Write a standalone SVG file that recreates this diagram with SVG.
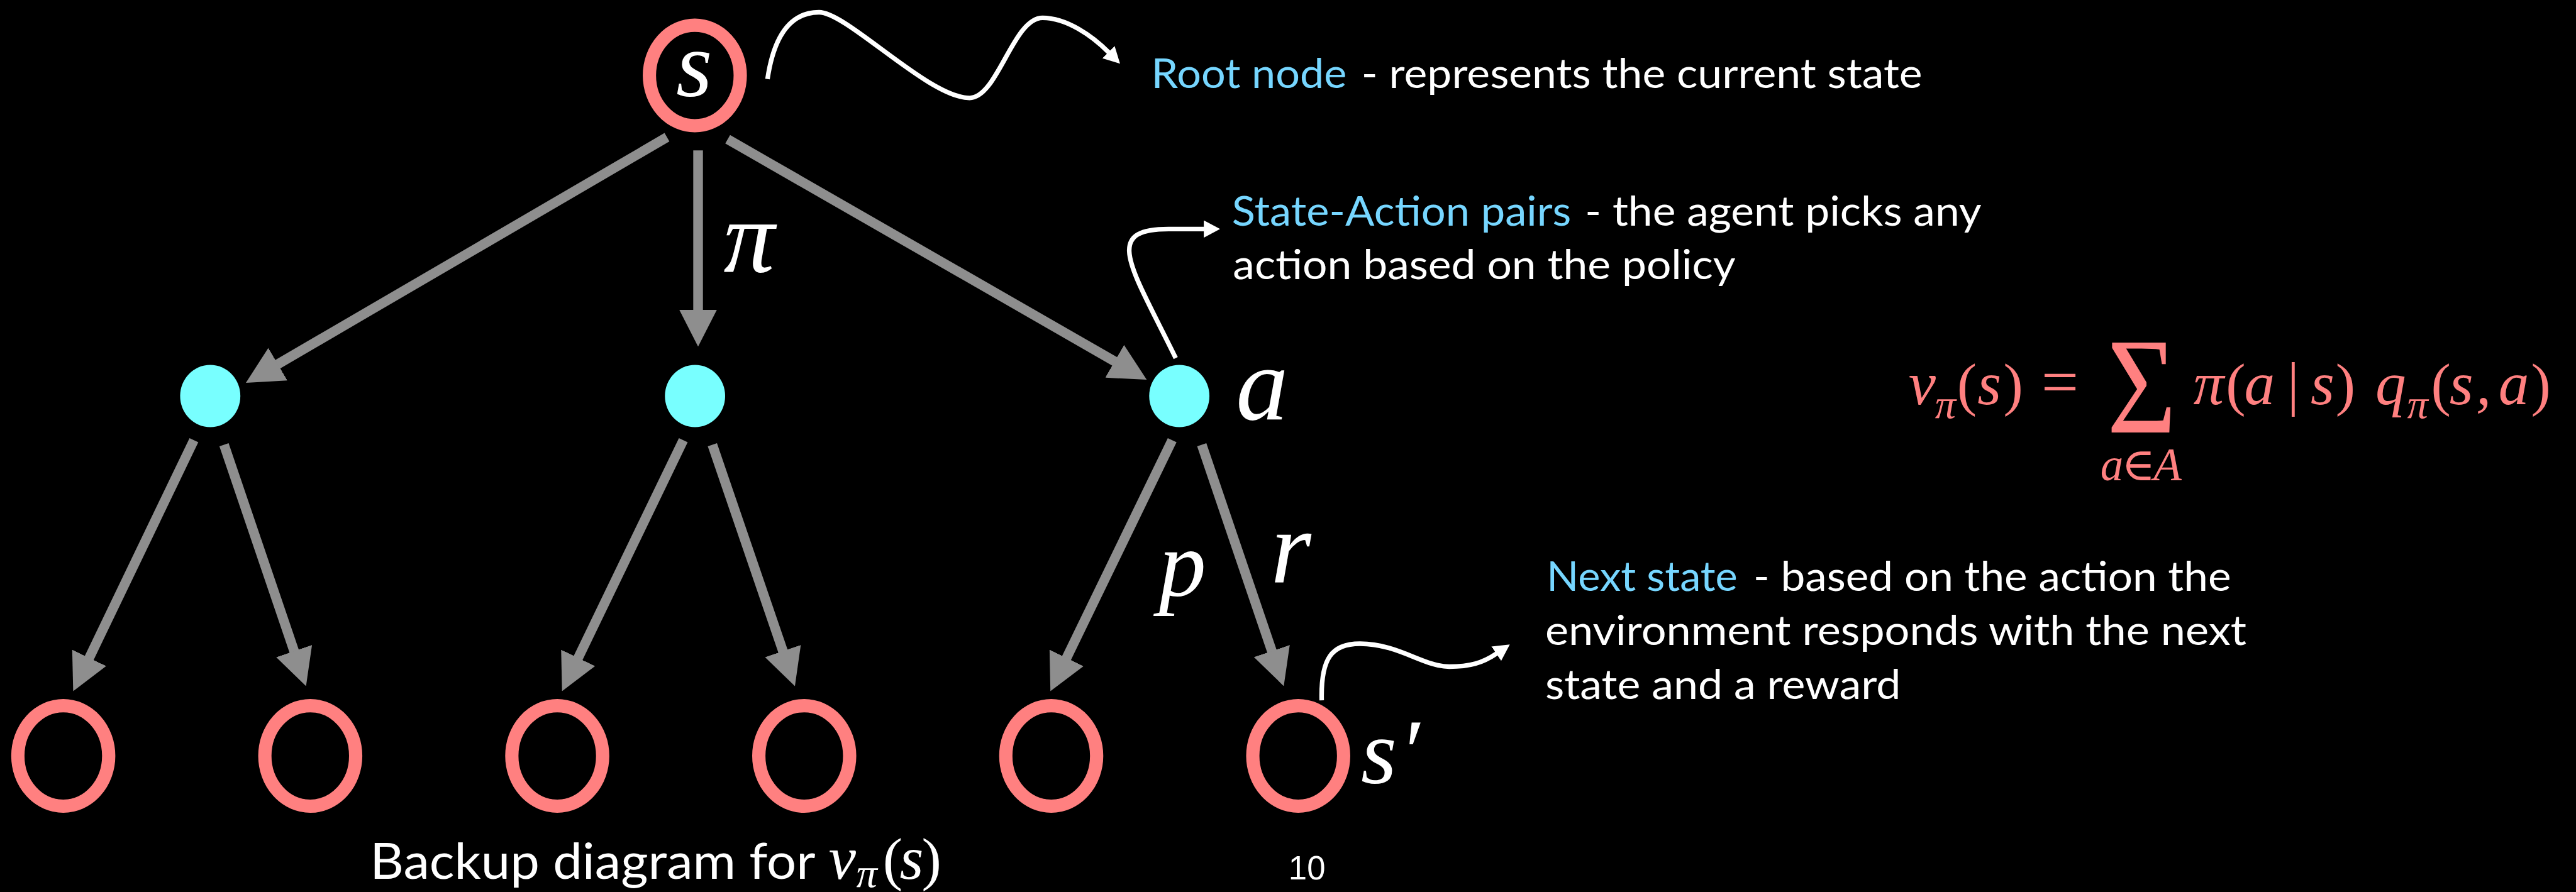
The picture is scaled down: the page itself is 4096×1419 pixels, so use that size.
<svg xmlns="http://www.w3.org/2000/svg" width="4096" height="1419" viewBox="0 0 4096 1419">
<defs>
<style>
.txt{font-family:Lato,"Open Sans",sans-serif}
.cy{fill:#76d6ff}
.wh{fill:#ffffff}
.m{font-family:"Liberation Serif","Times New Roman","DejaVu Serif",serif;font-style:italic;fill:#ffffff}
.f{font-family:"Liberation Serif","Times New Roman","DejaVu Serif",serif;font-style:italic;fill:#ff8080}
.fw{fill:#ffffff}
.up{font-style:normal}
.state{fill:none;stroke:#ff8080;stroke-width:26}
.act{fill:#78ffff}
.edge{stroke:#8e8e8e;stroke-width:19;fill:none;marker-end:url(#ah)}
.call{stroke:#ffffff;stroke-width:9;fill:none;marker-end:url(#wh)}
</style>
<marker id="ah" markerUnits="userSpaceOnUse" viewBox="0 0 72.5 74" markerWidth="72.5" markerHeight="74" refX="1" refY="37" orient="auto"><path d="M0,0 L72.5,37 L0,74 Z" fill="#8e8e8e"/></marker>
<marker id="wh" markerUnits="userSpaceOnUse" viewBox="0 0 32 34" markerWidth="32" markerHeight="34" refX="1" refY="17" orient="auto"><path d="M0,0 L32,17 L0,34 Z" fill="#ffffff"/></marker>
</defs>
<rect width="4096" height="1419" fill="#000000"/>
<g transform="scale(0.81141)">
<g id="connectors">
<path class="edge" d="M1307,269 L543.6,714.5"/>
<path class="edge" d="M1368,295 L1368,608"/>
<path class="edge" d="M1426,273 L2185.1,708.9"/>
<path class="edge" d="M380,863 L174.4,1290.7"/>
<path class="edge" d="M439,872 L576.7,1277.4"/>
<path class="edge" d="M1339,863 L1132.5,1290.7"/>
<path class="edge" d="M1396,872 L1534.6,1277.4"/>
<path class="edge" d="M2297,863 L2089.6,1290.8"/>
<path class="edge" d="M2355,872 L2492.7,1277.4"/>
</g>
<g id="callouts">
<path class="call" d="M1504,155 C1518,60 1555,24 1605,24 C1660,24 1820,192 1900,192 C1955,192 1985,35 2043,35 C2090,35 2140,70 2173,103"/>
<path class="call" d="M2304,702 C2215,520 2160,449 2290,449 L2360,449"/>
<path class="call" d="M2590,1373 C2588,1290 2610,1262 2665,1262 C2740,1262 2790,1307 2840,1307 C2880,1307 2905,1300 2933,1281"/>
</g>
<g id="root"><ellipse class="state" cx="1361.6" cy="148" rx="89" ry="98.5"/><text class="m" x="1325" y="189" font-size="182">s</text></g>
<g id="action1"><ellipse class="act" cx="412" cy="776.5" rx="59" ry="61"/></g>
<g id="action2"><ellipse class="act" cx="1362" cy="776.5" rx="59" ry="61"/></g>
<g id="action3"><ellipse class="act" cx="2311" cy="776.5" rx="59" ry="61"/></g>
<g id="leaf0"><ellipse class="state" cx="124" cy="1482" rx="89" ry="98.5"/></g>
<g id="leaf1"><ellipse class="state" cx="608" cy="1482" rx="89" ry="98.5"/></g>
<g id="leaf2"><ellipse class="state" cx="1092" cy="1482" rx="89" ry="98.5"/></g>
<g id="leaf3"><ellipse class="state" cx="1576" cy="1482" rx="89" ry="98.5"/></g>
<g id="leaf4"><ellipse class="state" cx="2060" cy="1482" rx="89" ry="98.5"/></g>
<g id="leaf5"><ellipse class="state" cx="2544" cy="1482" rx="89" ry="98.5"/></g>
<g id="labels">
<text class="m" x="1418" y="533" font-size="200">π</text>
<text class="m" x="2422" y="822" font-size="205">a</text>
<text class="m" x="2271" y="1168" font-size="185">p</text>
<text class="m" x="2490" y="1143" font-size="204">r</text>
<text class="m" x="2667" y="1535" font-size="180">s<tspan x="2742" y="1535">′</tspan></text>
</g>
<g id="annotations" font-size="81">
<text class="txt cy" x="2256" y="173" textLength="383" lengthAdjust="spacingAndGlyphs">Root node</text>
<text class="txt wh" x="2668" y="173" textLength="1099" lengthAdjust="spacingAndGlyphs">- represents the current state</text>
<text class="txt cy" x="2414" y="442" textLength="665" lengthAdjust="spacingAndGlyphs">State-Action pairs</text>
<text class="txt wh" x="3106" y="442" textLength="777" lengthAdjust="spacingAndGlyphs">- the agent picks any</text>
<text class="txt wh" x="2416" y="547" textLength="985" lengthAdjust="spacingAndGlyphs">action based on the policy</text>
<text class="txt cy" x="3031" y="1159" textLength="374" lengthAdjust="spacingAndGlyphs">Next state</text>
<text class="txt wh" x="3436" y="1159" textLength="936" lengthAdjust="spacingAndGlyphs">- based on the action the</text>
<text class="txt wh" x="3028" y="1265" textLength="1374" lengthAdjust="spacingAndGlyphs">environment responds with the next</text>
<text class="txt wh" x="3028" y="1370" textLength="697" lengthAdjust="spacingAndGlyphs">state and a reward</text>
</g>
<g id="formula" font-size="120">
<text class="f"><tspan x="3740" y="792">v</tspan><tspan x="3792" y="819" font-size="82">π</tspan><tspan class="up" x="3835" y="792" font-size="116">(</tspan><tspan x="3875" y="792">s</tspan><tspan class="up" x="3926" y="792" font-size="116">)</tspan><tspan class="up" x="4000" y="792" font-size="130">=</tspan></text>
<text class="f up" x="4129" y="848" font-size="268" textLength="136" lengthAdjust="spacingAndGlyphs">Σ</text>
<text class="f" font-size="90"><tspan x="4116" y="941">a</tspan><tspan class="up" x="4157" y="941">∈</tspan><tspan x="4220" y="941">A</tspan></text>
<text class="f"><tspan x="4298" y="792">π</tspan><tspan class="up" x="4362" y="792" font-size="116">(</tspan><tspan x="4398" y="792">a</tspan><tspan class="up" x="4482" y="792" font-size="118">|</tspan><tspan x="4528" y="792">s</tspan><tspan class="up" x="4577" y="792" font-size="116">)</tspan><tspan x="4655" y="792">q</tspan><tspan x="4717" y="819" font-size="82">π</tspan><tspan class="up" x="4764" y="792" font-size="116">(</tspan><tspan x="4800" y="792">s</tspan><tspan x="4852" y="792">,</tspan><tspan x="4896" y="792">a</tspan><tspan class="up" x="4960" y="792" font-size="116">)</tspan></text>
</g>
<g id="caption" font-size="120">
<text class="txt wh" x="725" y="1723" font-size="99" textLength="873" lengthAdjust="spacingAndGlyphs">Backup diagram for</text>
<text class="f fw"><tspan x="1624" y="1723">v</tspan><tspan x="1678" y="1739" font-size="82">π</tspan><tspan class="up" x="1730" y="1723" font-size="116">(</tspan><tspan x="1763" y="1723">s</tspan><tspan class="up" x="1806" y="1723" font-size="116">)</tspan></text>
<text x="2525" y="1724" font-family="Liberation Sans, Arial, sans-serif" font-size="65" fill="#ffffff">10</text>
</g>
</g>
</svg>
